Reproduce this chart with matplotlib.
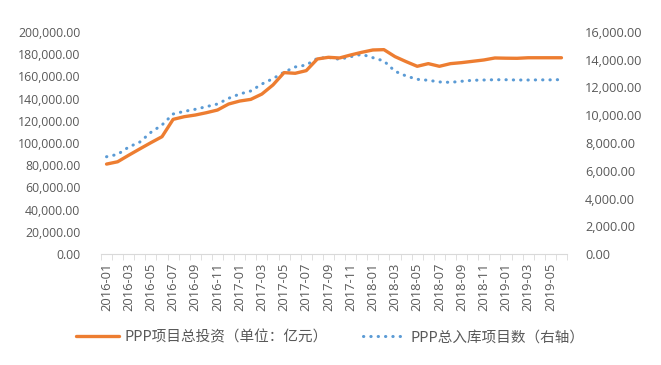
import matplotlib
matplotlib.use("Agg")
import matplotlib.pyplot as plt
import numpy as np

plt.rcParams['font.family'] = ['Open Sans', 'Noto Sans CJK SC', 'DejaVu Sans']

months = [f"{y}-{m:02d}" for y in (2016, 2017, 2018, 2019) for m in range(1, 13)][:42]

investment = [81000, 83100, 89000, 94700, 100300, 105700, 121300, 123700, 125200, 127300,
              129700, 135100, 137800, 139300, 144100, 152300, 163400, 162800, 165200, 175700,
              177200, 176600, 179300, 181700, 183800, 184100, 177800, 173300, 169100, 171500,
              169100, 171500, 172400, 173600, 174800, 176600, 176400, 176300, 176800, 176800,
              176800, 176800]

projects = [7010, 7180, 7710, 8070, 8770, 9300, 10090, 10280, 10430, 10620,
            10810, 11220, 11530, 11750, 12250, 12640, 13100, 13480, 13620, 14100,
            14170, 14030, 14220, 14390, 14150, 13910, 13170, 12830, 12590, 12520,
            12400, 12370, 12450, 12520, 12540, 12560, 12560, 12540, 12540, 12550,
            12550, 12570]

label_invest = "PPP项目总投资（单位：亿元）"
label_proj = "PPP总入库项目数（右轴）"

fig = plt.figure(figsize=(6.61, 3.65), dpi=100)
ax = fig.add_axes([101/661, 1-254/365, 466/661, 222/365])
ax2 = ax.twinx()

x = np.arange(len(months))
orange = '#ED7D31'
blue = '#5B9BD5'
grey = '#595959'

ax.plot(x, investment, color=orange, lw=2.4, solid_capstyle='round', solid_joinstyle='round',
        label=label_invest, zorder=3)
ax2.plot(x, projects, color=blue, lw=2.2, linestyle=(0, (0.1, 2.3)), dash_capstyle='round',
         label=label_proj)
ax.set_zorder(ax2.get_zorder() + 1)
ax.patch.set_visible(False)

ax.set_xlim(-0.5, len(months) - 0.5)
ax.set_ylim(0, 200000)
ax2.set_ylim(0, 16000)
ax.set_yticks(np.arange(0, 200001, 20000))
ax2.set_yticks(np.arange(0, 16001, 2000))
ax.set_yticklabels([f"{v:,.2f}" for v in np.arange(0, 200001, 20000)])
ax2.set_yticklabels([f"{v:,.2f}" for v in np.arange(0, 16001, 2000)])

ax.set_xticks(x[::2])
ax.set_xticklabels(months[::2], rotation=90)
ax.set_xticks(np.arange(-0.5, len(months), 1), minor=True)

for a in (ax, ax2):
    for s in a.spines.values():
        s.set_visible(False)
ax.spines['bottom'].set_visible(True)
ax.spines['bottom'].set_color('#D9D9D9')

ax.tick_params(axis='x', which='major', length=0, pad=6, labelsize=9.3, labelcolor=grey)
ax.tick_params(axis='x', which='minor', length=4, color='#D9D9D9')
ax.tick_params(axis='y', length=0, pad=15, labelsize=8.8, labelcolor=grey)
ax2.tick_params(axis='y', length=0, pad=13, labelsize=9.2, labelcolor=grey)

h1, l1 = ax.get_legend_handles_labels()
h2, l2 = ax2.get_legend_handles_labels()
fig.legend(h1 + h2, l1 + l2, loc='center', bbox_to_anchor=(0.5, 1 - 337/365), ncol=2,
           frameon=False, labelcolor=grey, handlelength=2.9, columnspacing=2.4,
           handletextpad=0.4, prop={'family': ['Noto Sans CJK SC', 'DejaVu Sans'], 'size': 10.5})

fig.savefig("out.png", dpi=100)
